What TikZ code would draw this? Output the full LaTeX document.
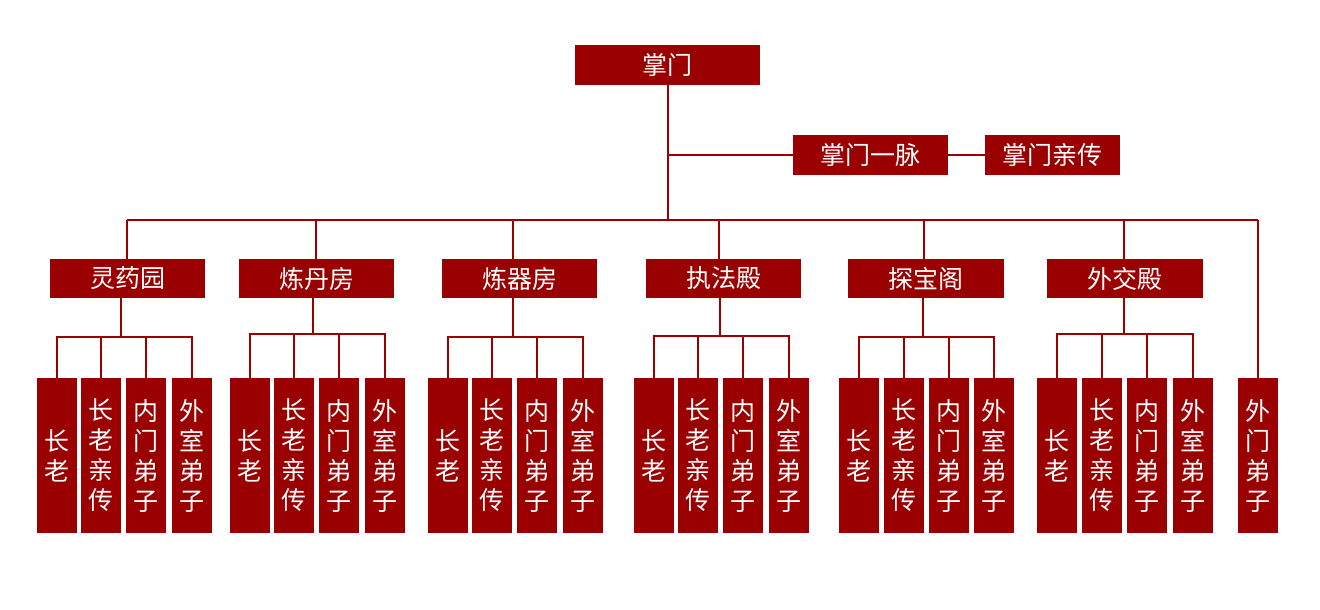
\documentclass[tikz,border=0pt]{standalone}
\usepackage{fontspec}
\setmainfont{Noto Sans CJK SC}
\definecolor{sred}{HTML}{9B0000}
\tikzset{
  box/.style={fill=sred, draw=none, inner sep=0pt, text=white, font=\fontsize{25}{30}\selectfont},
  leafbox/.style={fill=sred, draw=none, inner sep=0pt, text=white, minimum width=40pt, minimum height=155pt, align=center, font=\fontsize{25}{30}\selectfont},
  link/.style={draw=sred, line width=2pt}
}
\begin{document}
\begin{tikzpicture}[x=1pt,y=-1pt]
\useasboundingbox (0,0) rectangle (1320,610);
% top
\node[box, minimum width=185pt, minimum height=40pt] (zm) at (667.5,65) {掌门};
\node[box, minimum width=155pt, minimum height=40pt] (ym) at (870.5,155) {掌门一脉};
\node[box, minimum width=135pt, minimum height=40pt] (qc) at (1052.5,155) {掌门亲传};
\coordinate (busL) at (127,220);
\coordinate (busR) at (1258,220);
\coordinate (busM) at (668,220);
\draw[link] (zm.south -| busM) -- (busM);
\draw[link] (busM |- ym.west) -- (ym.west);
\draw[link] (ym.east) -- (qc.west);
\draw[link] (busL) -- (busR);
% departments
\foreach \g/\dl/\dr/\tx/\bx/\hy/\la/\lb/\lc/\ld/\nm in {
  1/50/205/127/121/337/37/81/126/172/灵药园,
  2/239/394/316/313/334/230/274/319/365/炼丹房,
  3/442/597/513/513/337/428/472/517/563/炼器房,
  4/646/801/719/720/336/634/678/723/769/执法殿,
  5/848/1004/924/923/337/839/884/929/974/探宝阁,
  6/1047/1203/1124/1124/334/1037/1082/1127/1173/外交殿}{
  \pgfmathsetmacro{\dc}{(\dl+\dr)/2}
  \pgfmathsetmacro{\dw}{\dr-\dl}
  \node[box, minimum width=\dw pt, minimum height=39pt] (d\g) at (\dc,278.5) {\nm};
  \coordinate (t\g) at (\tx,220);
  \coordinate (h\g) at (\bx,\hy);
  \draw[link] (t\g) -- (t\g |- d\g.north);
  \draw[link] (d\g.south -| h\g) -- (h\g);
  \node[leafbox] (a\g) at (\la+20,455.5) {长\\老};
  \node[leafbox] (b\g) at (\lb+20,455.5) {长\\老\\亲\\传};
  \node[leafbox] (c\g) at (\lc+20,455.5) {内\\门\\弟\\子};
  \node[leafbox] (e\g) at (\ld+20,455.5) {外\\室\\弟\\子};
  \draw[link] (a\g.north) |- (h\g) -| (e\g.north);
  \draw[link] (b\g.north) -- (b\g.north |- h\g);
  \draw[link] (c\g.north) -- (c\g.north |- h\g);
}
\node[leafbox] (wm) at (1258,455.5) {外\\门\\弟\\子};
\draw[link] (busR) -- (wm.north);
\end{tikzpicture}
\end{document}
